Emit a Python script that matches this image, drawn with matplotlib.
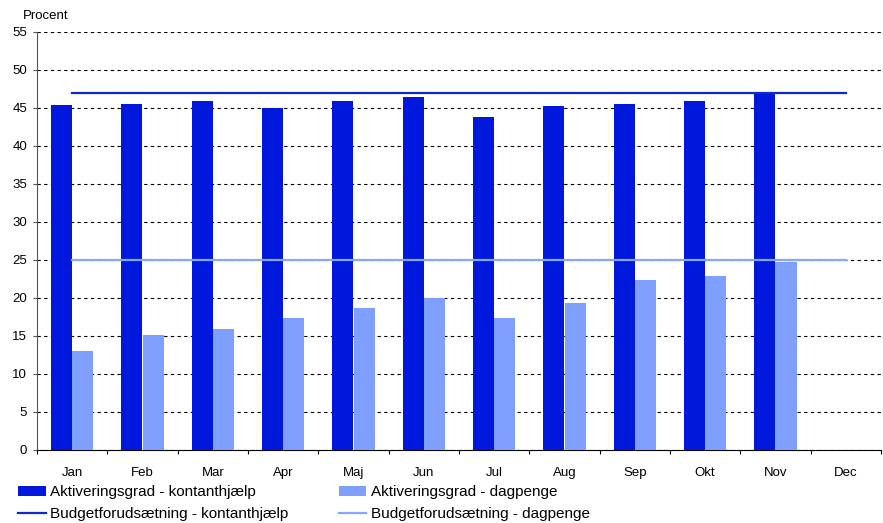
import matplotlib
matplotlib.use("Agg")
import matplotlib.pyplot as plt
import numpy as np

months = ["Jan", "Feb", "Mar", "Apr", "Maj", "Jun", "Jul", "Aug", "Sep", "Okt", "Nov", "Dec"]
kontant = [45.4, 45.5, 45.9, 45.0, 45.9, 46.4, 43.8, 45.3, 45.5, 45.9, 47.0, np.nan]
dagpenge = [13.0, 15.1, 15.9, 17.4, 18.7, 20.0, 17.4, 19.3, 22.4, 22.9, 24.7, np.nan]
budget_kontant = [47] * 12
budget_dagpenge = [25] * 12
yticks = list(range(0, 56, 5))

dark = "#0018DC"
light = "#7F9FFF"

plt.rcParams['font.family'] = ['Liberation Sans', 'DejaVu Sans']

fig = plt.figure(figsize=(8.83, 5.23), dpi=100)
ax = fig.add_axes([37/883, 1-450/523, 844/883, 418/523])

x = np.arange(len(months))
w = 0.3
b1 = ax.bar(x - w/2, kontant, width=w, color=dark, zorder=3, linewidth=0)
b2 = ax.bar(x + w/2, dagpenge, width=w, color=light, zorder=3, linewidth=0)
l1, = ax.plot(x, budget_kontant, color="#1028D0", lw=1.6, zorder=4)
l2, = ax.plot(x, budget_dagpenge, color="#88A6FF", lw=1.6, zorder=4)

ax.set_xlim(-0.5, 11.5)
ax.set_ylim(0, 55)
ax.set_yticks(yticks)
ax.set_yticklabels([str(v) for v in yticks], fontsize=9.5)
ax.yaxis.grid(True, linestyle=(0, (3, 3)), color="black", lw=0.8, zorder=0)
ax.set_axisbelow(True)

ax.set_xticks(np.arange(-0.5, 12, 1))
ax.set_xticklabels([])
ax.set_xticks(x, minor=True)
ax.set_xticklabels(months, minor=True, fontsize=9.5)
ax.tick_params(axis='x', which='minor', length=0, pad=12)
ax.tick_params(axis='x', which='major', length=3, direction='out', color='black')
ax.tick_params(axis='y', length=3, direction='out', color='#555555', pad=4)

for s in ["top", "right"]:
    ax.spines[s].set_visible(False)
ax.spines["left"].set_color("#555555")
ax.spines["bottom"].set_color("black")

fig.text(23/883, 1-16/523, "Procent", fontsize=9.5, va="center", ha="left")

fig.legend([b1, l1, b2, l2],
           ["Aktiveringsgrad - kontanthjælp", "Budgetforudsætning - kontanthjælp",
            "Aktiveringsgrad - dagpenge", "Budgetforudsætning - dagpenge"],
           ncol=2, loc="upper left", bbox_to_anchor=(18/883, 1-485/523),
           frameon=False, fontsize=11, handlelength=1.8, handleheight=0.65,
           columnspacing=3.3, labelspacing=0.55, handletextpad=0.3, borderaxespad=0,
           borderpad=0)

fig.savefig("out.png", dpi=100)
